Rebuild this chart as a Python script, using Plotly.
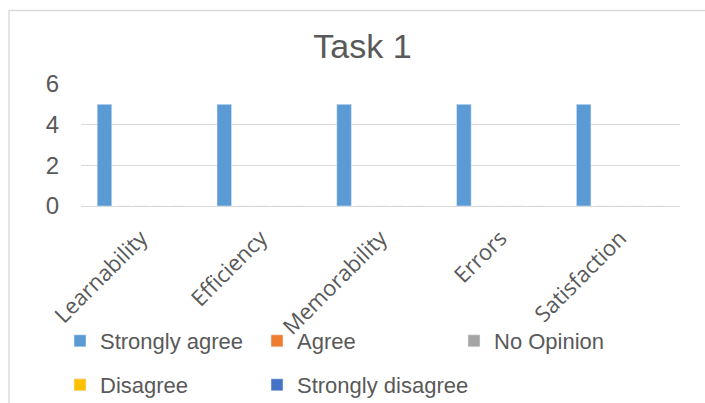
import plotly.graph_objects as go

categories = ["Learnability", "Efficiency", "Memorability", "Errors", "Satisfaction"]
series_names = ["Strongly agree", "Agree", "No Opinion", "Disagree", "Strongly disagree"]
strongly_agree = [5, 5, 5, 5, 5]
agree = [0, 0, 0, 0, 0]
no_opinion = [0, 0, 0, 0, 0]
disagree = [0, 0, 0, 0, 0]
strongly_disagree = [0, 0, 0, 0, 0]
y_ticks = [0, 2, 4, 6]

series_values = [strongly_agree, agree, no_opinion, disagree, strongly_disagree]
colors = ["#5B9BD5", "#ED7D31", "#A5A5A5", "#FFC000", "#4472C4"]
legend_ids = ["legend", "legend", "legend", "legend2", "legend3"]

W, H = 705, 403
L, R, T, B = 81, 25, 84, 197
pw = W - L - R
ph = H - T - B

fig = go.Figure()
for name, vals, col, lg in zip(series_names, series_values, colors, legend_ids):
    fig.add_trace(go.Bar(x=categories, y=vals, name=name, marker_color=col, legend=lg))

def px_to_paper_x(px):
    return (px - L) / pw

def px_to_paper_y(py):
    return (H - B - py) / ph

font_main = "Liberation Sans, Arial, sans-serif"
legend_common = dict(
    orientation="h",
    font=dict(family=font_main, size=22, color="#595959"),
    xanchor="left",
    yanchor="middle",
    xref="container",
    yref="container",
    bgcolor="rgba(0,0,0,0)",
    itemclick=False,
)

fig.update_layout(
    width=W,
    height=H,
    margin=dict(l=L, r=R, t=T, b=B, pad=0, autoexpand=False),
    paper_bgcolor="white",
    plot_bgcolor="white",
    barmode="group",
    bargap=0.24,
    bargroupgap=0.2,
    title=dict(
        text="Task 1",
        font=dict(family="Liberation Sans, Arial", size=34, color="#595959"),
        x=362.5 / W,
        xanchor="center",
        xref="container",
        y=1 - 46 / H,
        yref="container",
        yanchor="middle",
    ),
    xaxis=dict(
        tickangle=-45,
        tickfont=dict(family="Open Sans, sans-serif", size=22, color="#595959"),
        showgrid=False,
        showline=False,
        zeroline=False,
        ticks="",
        automargin=False,
        ticklabelstandoff=14,
    ),
    yaxis=dict(
        range=[0, 6],
        tickvals=y_ticks,
        tickfont=dict(family=font_main, size=24, color="#595959"),
        showgrid=True,
        gridcolor="#D9D9D9",
        gridwidth=1.4,
        zeroline=True,
        zerolinecolor="#D9D9D9",
        zerolinewidth=1.4,
        showline=False,
        automargin=False,
        ticklabelstandoff=21,
    ),
    legend=dict(legend_common, x=60 / W, y=1 - 341 / H,
                entrywidth=152, entrywidthmode="pixels"),
    legend2=dict(legend_common, x=60 / W, y=1 - 385 / H),
    legend3=dict(legend_common, x=257 / W, y=1 - 385 / H),
    showlegend=True,
    shapes=[
        dict(
            type="rect",
            xref="paper",
            yref="paper",
            x0=px_to_paper_x(9),
            x1=px_to_paper_x(760),
            y0=px_to_paper_y(460),
            y1=px_to_paper_y(10.5),
            line=dict(color="#D9D9D9", width=1.3),
            fillcolor="rgba(0,0,0,0)",
            layer="below",
        )
    ],
)

fig.write_html("out.html")
